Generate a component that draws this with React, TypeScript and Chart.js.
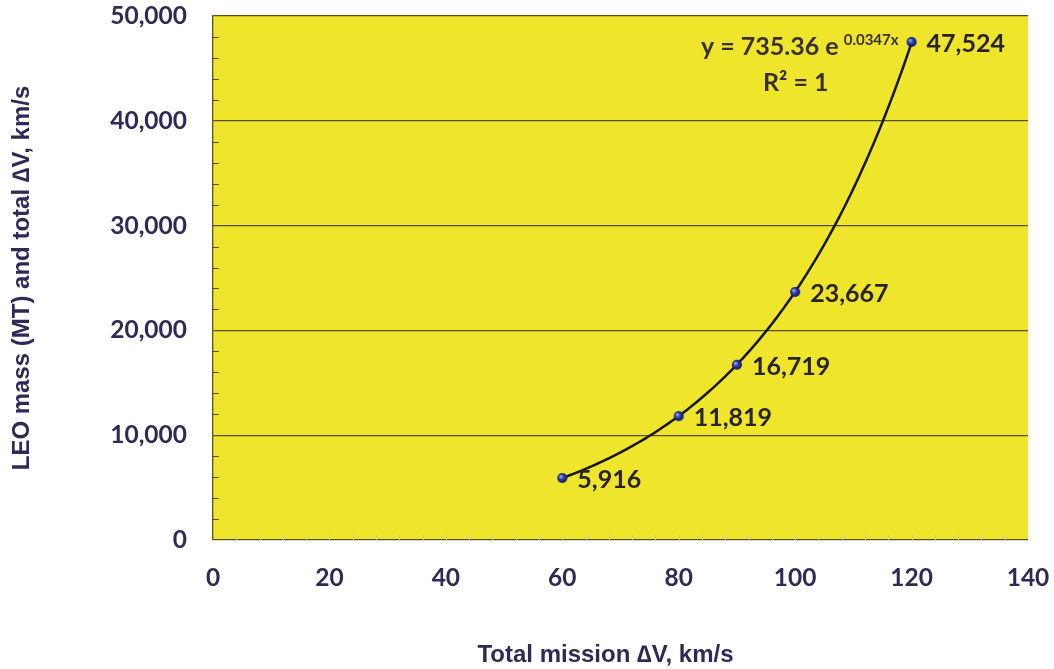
import React, { useEffect, useRef } from "react";
import { Chart, registerables } from "chart.js";

Chart.register(...registerables);

const missionDeltaV = [60, 80, 90, 100, 120];
const leoMass = [5916, 11819, 16719, 23667, 47524];
const massLabels = ["5,916", "11,819", "16,719", "23,667", "47,524"];
const equationText = "y = 735.36 e";
const equationExp = "0.0347x";
const rSquaredText = "R² = 1";
const xTitle = "Total mission \u2206V, km/s";
const yTitle = "LEO mass (MT) and total \u2206V, km/s";

const PLOT_BG = "#efe62b";
const GRID = "#56501f";
const TICK_COLOR = "#2f2a55";
const LABEL_COLOR = "#2a2428";

function makeBall(r: number): HTMLCanvasElement {
  const c = document.createElement("canvas");
  c.width = c.height = 2 * r + 2;
  const ctx = c.getContext("2d")!;
  const cx = r + 1;
  const g = ctx.createRadialGradient(cx - r * 0.35, cx - r * 0.35, r * 0.1, cx, cx, r);
  g.addColorStop(0, "#9aa8f0");
  g.addColorStop(0.45, "#2c3cae");
  g.addColorStop(1, "#121858");
  ctx.fillStyle = g;
  ctx.beginPath();
  ctx.arc(cx, cx, r, 0, Math.PI * 2);
  ctx.fill();
  return c;
}

// least-squares exponential trendline (like a spreadsheet trendline), fitted to the data
function expFit(xs: number[], ys: number[]) {
  const n = xs.length;
  const ly = ys.map((v) => Math.log(v));
  const mx = xs.reduce((s, v) => s + v, 0) / n;
  const my = ly.reduce((s, v) => s + v, 0) / n;
  let num = 0, den = 0;
  for (let i = 0; i < n; i++) {
    num += (xs[i] - mx) * (ly[i] - my);
    den += (xs[i] - mx) ** 2;
  }
  const b = num / den;
  const a = Math.exp(my - b * mx);
  return (x: number) => a * Math.exp(b * x);
}

const bgPlugin = {
  id: "plotBg",
  beforeDraw(chart: any) {
    const { ctx, chartArea: a } = chart;
    ctx.save();
    ctx.fillStyle = PLOT_BG;
    ctx.fillRect(a.left, a.top, a.right - a.left, a.bottom - a.top);
    ctx.restore();
  },
  beforeDatasetsDraw(chart: any) {
    const { ctx, chartArea: a, scales } = chart;
    ctx.save();
    ctx.strokeStyle = "#d6d08a";
    ctx.lineWidth = 1;
    for (let v = 4; v < 140; v += 4) {
      const x = Math.round(scales.x.getPixelForValue(v)) + 0.5;
      ctx.beginPath();
      ctx.moveTo(x, a.bottom);
      ctx.lineTo(x, a.bottom - 6);
      ctx.stroke();
    }
    ctx.strokeStyle = GRID;
    for (let v = 2000; v < 50000; v += 2000) {
      if (v % 10000 === 0) continue;
      const y = Math.round(scales.y.getPixelForValue(v)) + 0.5;
      ctx.beginPath();
      ctx.moveTo(a.left, y);
      ctx.lineTo(a.left + 6, y);
      ctx.stroke();
    }
    // trendline
    const f = expFit(missionDeltaV, leoMass);
    const x0 = missionDeltaV[0];
    const x1 = missionDeltaV[missionDeltaV.length - 1];
    ctx.strokeStyle = "#161616";
    ctx.lineWidth = 2.5;
    ctx.lineJoin = "round";
    ctx.beginPath();
    const steps = 120;
    for (let i = 0; i <= steps; i++) {
      const xv = x0 + ((x1 - x0) * i) / steps;
      const px = scales.x.getPixelForValue(xv);
      const py = scales.y.getPixelForValue(f(xv));
      if (i === 0) ctx.moveTo(px, py);
      else ctx.lineTo(px, py);
    }
    ctx.stroke();
    ctx.restore();
  },
};

const labelPlugin = {
  id: "pointLabels",
  afterDatasetsDraw(chart: any) {
    const { ctx, chartArea: a } = chart;
    const meta = chart.getDatasetMeta(0);
    ctx.save();
    ctx.fillStyle = LABEL_COLOR;
    ctx.font = "bold 25px Lato";
    ctx.textAlign = "left";
    ctx.textBaseline = "middle";
    meta.data.forEach((pt: any, i: number) => {
      ctx.fillText(massLabels[i], pt.x + 15, pt.y + 2);
    });
    const last = meta.data[meta.data.length - 1];
    ctx.font = "bold 25px Lato";
    const wMain = ctx.measureText(equationText).width;
    ctx.font = "bold 15px Lato";
    const wSup = ctx.measureText(equationExp).width;
    const gap = 5;
    const total = wMain + gap + wSup;
    const startX = last.x - 13 - total;
    ctx.fillStyle = "#3a3034";
    ctx.font = "bold 25px Lato";
    ctx.fillText(equationText, startX, last.y + 5);
    ctx.font = "bold 15px Lato";
    ctx.fillText(equationExp, startX + wMain + gap, last.y - 2);
    ctx.font = "bold 25px Lato";
    ctx.textAlign = "center";
    ctx.fillText(rSquaredText, startX + total / 2 - 4, last.y + 41);
    // x axis title
    ctx.fillStyle = TICK_COLOR;
    ctx.font = "bold 24px 'Liberation Sans'";
    ctx.textAlign = "center";
    ctx.fillText(xTitle, (a.left + a.right) / 2 - 15, chart.height - 14);
    ctx.restore();
  },
};

export default function App() {
  const ref = useRef<HTMLCanvasElement>(null);
  useEffect(() => {
    document.body.style.margin = "0";
    const ball = makeBall(5);
    const chart = new Chart(ref.current!, {
      type: "line",
      data: {
        datasets: [
          {
            data: missionDeltaV.map((x, i) => ({ x, y: leoMass[i] })),
            showLine: false,
            pointStyle: ball as any,
            pointRadius: 5,
            fill: false,
          },
        ],
      },
      options: {
        responsive: false,
        animation: false,
        layout: { padding: { top: 16, right: 26, left: 0, bottom: 0 } },
        plugins: { legend: { display: false }, tooltip: { enabled: false } },
        scales: {
          x: {
            type: "linear",
            min: 0,
            max: 140,
            ticks: {
              stepSize: 20,
              color: TICK_COLOR,
              font: { family: "Lato", weight: "bold", size: 24.5 },
              padding: 23,
            },
            grid: { display: false, drawTicks: false },
            border: { display: false },
            title: { display: false },
            afterFit(scale: any) {
              scale.height = 129;
              scale.paddingLeft = 0;
              scale.paddingRight = 0;
            },
          },
          y: {
            min: 0,
            max: 50000,
            ticks: {
              stepSize: 10000,
              color: TICK_COLOR,
              font: { family: "Lato", weight: "bold", size: 24.5 },
              padding: 26,
              callback: (v: any) => Number(v).toLocaleString("en-US"),
            },
            grid: { color: GRID, lineWidth: 1.3, drawTicks: false },
            border: { display: true, color: GRID, width: 1.3 },
            title: {
              display: true,
              text: yTitle,
              color: TICK_COLOR,
              font: { family: "Liberation Sans", weight: "bold", size: 24 },
              padding: { top: 8, bottom: 0 },
            },
            afterFit(scale: any) {
              scale.width = 213;
              scale.paddingTop = 0;
              scale.paddingBottom = 0;
            },
          },
        },
      },
      plugins: [bgPlugin, labelPlugin],
    });
    return () => chart.destroy();
  }, []);
  return (
    <div style={{ position: "absolute", left: 0, top: 0, width: 1054, height: 669, background: "#fff" }}>
      <canvas ref={ref} width={1054} height={669} style={{ display: "block" }} />
    </div>
  );
}
